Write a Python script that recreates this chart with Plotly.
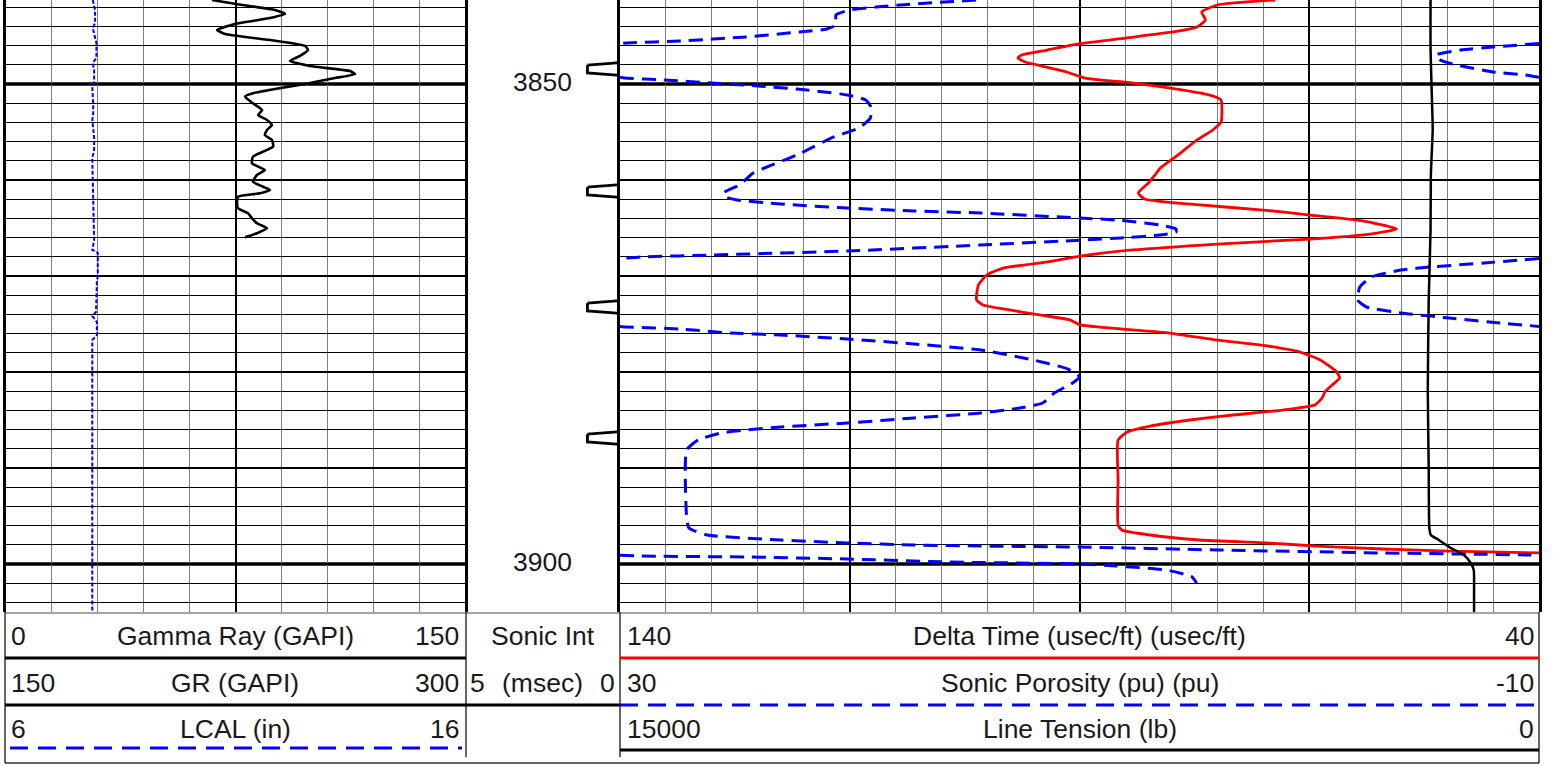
import math
import plotly.graph_objects as go

W, H = 1553, 765
T1_L, T1_R = 6, 465          # track 1 pixel edges
T2_L, T2_R = 620, 1539       # track 2 pixel edges
PLOT_BOTTOM = 612            # bottom of log grid (px)

depth_top, depth_bottom = 3841.25, 3905.0
depth_labels = [3850, 3900]
heavy_depths = [3850, 3900]

# ---------------- data ----------------
gr_depth = [3841.25, 3841.67, 3842.29, 3842.71, 3843.13, 3843.75, 3844.38, 3844.79, 3845.42, 3846.04,
            3846.46, 3847.08, 3847.6, 3848.13, 3848.65, 3848.96, 3849.38, 3850.0, 3850.52, 3850.94,
            3851.32, 3852.01, 3852.71, 3853.23, 3853.75, 3854.27, 3854.79, 3855.31, 3855.83, 3856.53,
            3857.05, 3857.57, 3858.26, 3858.96, 3859.48, 3860.18, 3860.7, 3861.04, 3861.39, 3861.74,
            3862.26, 3862.95, 3863.47, 3863.99, 3864.51, 3865.03, 3865.55, 3865.97]
gr_vals = [67.3, 75.2, 87.9, 91.2, 86.3, 74.8, 69.0, 71.6, 86.3, 97.7,
           98.7, 96.1, 92.8, 99.3, 112.4, 114.1, 107.5, 97.7, 87.9, 81.0,
           78.1, 80.7, 83.7, 82.4, 85.3, 86.9, 85.3, 84.6, 86.9, 87.3,
           84.0, 80.7, 80.4, 84.6, 82.0, 80.7, 84.0, 86.3, 83.0, 75.8,
           75.5, 75.8, 79.1, 80.4, 82.0, 85.3, 82.0, 78.1]

lcal_depth = [3841.25, 3842.29, 3843.65, 3844.17, 3845.73, 3847.29, 3847.81, 3848.54, 3849.79, 3850.42,
              3851.98, 3853.02, 3853.75, 3855.52, 3856.88, 3857.71, 3860.0, 3861.77, 3863.44, 3864.17,
              3866.25, 3867.29, 3867.6, 3870.1, 3870.42, 3872.5, 3873.75, 3874.17, 3874.79, 3876.15,
              3876.67, 3905.0]
lcal_vals = [7.89, 7.94, 7.94, 7.89, 7.97, 7.97, 7.89, 7.92, 7.92, 7.88,
             7.90, 7.90, 7.88, 7.92, 7.92, 7.88, 7.89, 7.90, 7.90, 7.92,
             7.92, 7.88, 8.00, 8.00, 7.98, 7.97, 7.96, 7.88, 7.98, 7.98,
             7.88, 7.88]

dt_depth = [3841.25, 3841.77, 3842.5, 3843.33, 3844.06, 3844.58, 3845.21, 3845.83, 3846.46, 3846.98,
            3847.29, 3847.71, 3848.13, 3848.75, 3849.38, 3849.9, 3850.63, 3851.15, 3851.67, 3852.71,
            3853.96, 3854.79, 3855.83, 3857.4, 3858.75, 3859.48, 3860.31, 3861.35, 3861.98, 3862.6,
            3863.13, 3863.65, 3864.27, 3865.1, 3865.63, 3866.15, 3866.67, 3867.29, 3867.92, 3868.54,
            3869.17, 3869.9, 3870.94, 3872.5, 3873.02, 3873.54, 3874.06, 3874.58, 3875.1, 3875.94,
            3876.67, 3877.29, 3877.92, 3878.75, 3880.0, 3880.63, 3881.35, 3882.08, 3882.71, 3883.44,
            3883.96, 3884.48, 3885.0, 3885.63, 3886.25, 3887.08, 3891.25, 3895.94, 3896.46, 3896.98,
            3897.5, 3897.81, 3898.13, 3898.44, 3898.65, 3898.85]
dt_vals = [68.7, 75.0, 76.7, 76.3, 77.2, 79.8, 85.0, 90.1, 93.5, 96.3,
           96.7, 95.9, 94.1, 91.4, 89.4, 84.2, 78.7, 75.8, 74.6, 74.5,
           74.6, 75.5, 77.2, 79.3, 81.2, 81.8, 82.5, 83.6, 82.9, 76.9,
           70.0, 64.9, 59.2, 55.5, 58.4, 64.9, 75.0, 84.2, 89.9, 93.5,
           98.3, 100.1, 101.0, 101.2, 100.5, 97.6, 94.3, 91.0, 89.9, 80.2,
           75.0, 69.6, 66.0, 63.8, 62.0, 61.7, 62.5, 63.3, 63.6, 64.4,
           67.9, 73.3, 78.0, 82.3, 84.8, 85.8, 85.8, 85.8, 85.4, 82.3,
           76.9, 69.6, 64.2, 57.0, 49.7, 40.0]

por_depth = [3841.25, 3841.77, 3842.29, 3842.81, 3843.85, 3844.27, 3844.58, 3845.1, 3845.52, 3845.73,
             3846.15, 3846.46, 3846.98, 3847.5, 3848.02, 3848.75, 3849.06,
             3849.38, 3849.58, 3849.9, 3850.21, 3850.52, 3851.15, 3851.67, 3852.29, 3853.54, 3854.58,
             3855.52, 3857.4, 3859.27, 3860.52, 3861.35, 3861.77, 3862.08, 3862.5, 3862.92, 3863.23,
             3863.44, 3863.96, 3864.17, 3864.69, 3865.1, 3865.42, 3865.73, 3866.04, 3866.25, 3866.77,
             3867.4, 3867.81, 3868.02,
             3868.33, 3868.65, 3869.06, 3869.38, 3870.1, 3871.15, 3872.5, 3873.23, 3873.85, 3874.38, 3874.9,
             3875.31, 3875.52, 3875.94, 3876.15, 3876.56, 3877.08, 3877.71, 3878.65, 3879.69, 3880.52,
             3881.15, 3882.19, 3883.23, 3883.75, 3884.27, 3884.79, 3885.31, 3885.73, 3886.35, 3887.08,
             3888.13, 3895.1, 3896.25, 3896.98, 3897.5, 3897.81, 3898.02, 3898.13, 3898.23, 3898.54,
             3898.85, 3899.06,
             3899.17, 3899.27, 3899.48, 3899.79, 3900.0, 3900.21, 3900.63, 3901.35, 3902.0]
por_vals = [14.5, 17.8, 20.0, 20.6, 20.6, 21.0, 22.2, 24.5, 27.4, 29.7,
            32.0, 33.4, 34.5, 34.3, 33.6, 32.0, 30.6,
            29.8, 28.1, 26.0, 24.0, 22.3, 20.1, 19.3, 19.1, 19.1, 19.6,
            20.7, 22.3, 24.2, 24.8, 25.5, 25.4, 24.9, 23.0, 20.1, 17.2,
            14.3, 10.0, 8.4, 6.5, 5.8, 5.8, 6.5, 8.2, 9.8, 14.3,
            20.1, 26.0, 29.1,
            30.8, 32.4, 34.7, 36.0, 37.3, 37.8, 37.9, 37.5, 36.0, 33.9, 31.7,
            29.7, 27.4, 25.2, 23.0, 20.1, 17.2, 14.3, 12.2, 10.5, 10.0,
            10.3, 11.1, 11.6, 12.6, 14.3, 17.2, 20.1, 23.0, 25.6, 26.6,
            27.1, 27.1, 27.0, 26.2, 23.0, 20.1, 17.2, 14.3, 10.0, 4.0,
            -3.2, -9.6,
            -10.9, -15.5, -19.9, -24.2, -30.0, -31.6, -33.8, -34.9, -35.1]

ten_depth = [3841.25, 3846.46, 3853.23, 3854.79, 3859.48, 3865.21, 3872.5, 3881.88, 3890.21,
             3896.25, 3896.98, 3897.5, 3898.33, 3899.06, 3899.79, 3900.63, 3902.71, 3905.0]
ten_vals = [1770, 1770, 1740, 1735, 1765, 1770, 1800, 1815, 1800,
            1790, 1765, 1635, 1440, 1225, 1125, 1065, 1060, 1060]

sonic_int_ticks = [3848.44, 3861.15, 3873.23, 3886.88]

track1_header = [("0", "Gamma Ray (GAPI)", "150"),
                 ("150", "GR (GAPI)", "300"),
                 ("6", "LCAL (in)", "16")]
depth_header = [("", "Sonic Int", ""), ("5", "(msec)", "0")]
track2_header = [("140", "Delta Time (usec/ft) (usec/ft)", "40"),
                 ("30", "Sonic Porosity (pu) (pu)", "-10"),
                 ("15000", "Line Tension (lb)", "0")]


# ---------------- helpers ----------------
def wrap(depths, vals, lo, hi):
    """Wrap-around display of values on a [lo, hi] track (backup scale)."""
    width = hi - lo
    xs, ys = [], []
    prev = None
    for d, v in zip(depths, vals):
        band = math.floor((v - lo) / width)
        if prev is not None and band != prev[2]:
            pd_, pv, pb = prev
            boundary = lo + (band if band > pb else pb) * width
            t = (boundary - pv) / (v - pv)
            dc = pd_ + t * (d - pd_)
            xs += [boundary - pb * width, None, boundary - band * width]
            ys += [dc, None, dc]
        xs.append(v - band * width)
        ys.append(d)
        prev = (d, v, band)
    return xs, ys


def px(x):
    return x / W


def py(y):
    return 1 - y / H


FONT = "Liberation Sans, Arial, sans-serif"
TXT = "#1a1a1a"
BLUE = "#0000ff"
RED = "#ff0000"
FSIZE = 26.5

fig = go.Figure()

# Track 1
fig.add_trace(go.Scatter(x=gr_vals, y=gr_depth, xaxis="x", yaxis="y", mode="lines",
                         line=dict(color="black", width=2.6, shape="spline", smoothing=0.5),
                         name="Gamma Ray"))
fig.add_trace(go.Scatter(x=lcal_vals, y=lcal_depth, xaxis="x4", yaxis="y", mode="lines",
                         line=dict(color=BLUE, width=2, dash="4px,2px"), name="LCAL"))

# Depth track: sonic integration ticks + depth labels
fx, fy = [], []
for d in sonic_int_ticks:
    fx += [0.79, 1.0, 1.0, 0.79, 0.79, None]
    fy += [d - 0.40, d - 0.66, d + 0.66, d + 0.40, d - 0.40, None]
fig.add_trace(go.Scatter(x=fx, y=fy, xaxis="x2", yaxis="y2", mode="lines",
                         line=dict(color="black", width=2.8), name="Sonic Int"))
fig.add_trace(go.Scatter(x=[0.5] * len(depth_labels), y=depth_labels, xaxis="x2", yaxis="y2",
                         mode="text", text=[str(v) for v in depth_labels],
                         textfont=dict(family=FONT, size=FSIZE, color=TXT), name="depth"))

# Track 2
fig.add_trace(go.Scatter(x=dt_vals, y=dt_depth, xaxis="x3", yaxis="y3", mode="lines",
                         line=dict(color=RED, width=2.8, shape="spline", smoothing=0.5),
                         name="Delta Time"))
px_, py_ = wrap(por_depth, por_vals, -10, 30)
fig.add_trace(go.Scatter(x=px_, y=py_, xaxis="x5", yaxis="y3", mode="lines",
                         line=dict(color=BLUE, width=3, dash="14px,8px", shape="spline", smoothing=0.5),
                         name="Sonic Porosity"))
fig.add_trace(go.Scatter(x=ten_vals, y=ten_depth, xaxis="x6", yaxis="y3", mode="lines",
                         line=dict(color="black", width=2.5, shape="spline", smoothing=0.5),
                         name="Line Tension"))

ydom = [1 - PLOT_BOTTOM / H, 1]
ybase = dict(range=[depth_bottom, depth_top], domain=ydom, tick0=3850, dtick=10,
             showgrid=True, gridcolor="black", gridwidth=2,
             minor=dict(tick0=3850, dtick=2, showgrid=True, gridcolor="black", gridwidth=1),
             showticklabels=False, ticks="", zeroline=False,
             showline=True, mirror=True, linecolor="black", linewidth=3)
xbase = dict(showticklabels=False, ticks="", zeroline=False, showline=False, showgrid=True,
             gridcolor="black", gridwidth=2)

fig.update_layout(
    width=W, height=H, autosize=False,
    margin=dict(l=0, r=0, t=0, b=0),
    paper_bgcolor="white", plot_bgcolor="white",
    showlegend=False,
    xaxis=dict(domain=[px(T1_L), px(T1_R)], range=[0, 150], anchor="y", tick0=0, dtick=75,
               minor=dict(tick0=0, dtick=15, showgrid=True, gridcolor="#808080", gridwidth=1), **xbase),
    yaxis=dict(anchor="x", **ybase),
    xaxis2=dict(domain=[px(T1_R), px(T2_L)], range=[0, 1], anchor="y2", visible=False),
    yaxis2=dict(domain=ydom, range=[depth_bottom, depth_top], anchor="x2", visible=False),
    xaxis3=dict(domain=[px(T2_L), px(T2_R)], range=[140, 40], anchor="y3", tick0=40, dtick=25,
                minor=dict(tick0=40, dtick=5, showgrid=True, gridcolor="#808080", gridwidth=1), **xbase),
    yaxis3=dict(anchor="x3", **ybase),
    xaxis4=dict(range=[6, 16], overlaying="x", anchor="y", visible=False),
    xaxis5=dict(range=[30, -10], overlaying="x3", anchor="y3", visible=False),
    xaxis6=dict(range=[15000, 0], overlaying="x3", anchor="y3", visible=False),
)

shapes = []
# heavy 50-ft depth lines
for d in heavy_depths:
    for xr, yr in (("x domain", "y"), ("x3 domain", "y3")):
        shapes.append(dict(type="line", xref=xr, yref=yr, x0=0, x1=1, y0=d, y1=d,
                           line=dict(color="black", width=3.5), layer="below"))


def hline(x0, x1, y, color="black", width=3, dash="solid"):
    shapes.append(dict(type="line", xref="paper", yref="paper", x0=px(x0), x1=px(x1),
                       y0=py(y), y1=py(y), line=dict(color=color, width=width, dash=dash)))


def vline(x, y0, y1, color="#333333", width=1.5):
    shapes.append(dict(type="line", xref="paper", yref="paper", x0=px(x), x1=px(x),
                       y0=py(y0), y1=py(y1), line=dict(color=color, width=width)))


# header frame
hline(5, T2_R, PLOT_BOTTOM + 1, color="#888888", width=1.5)
hline(5, T2_R, 763, color="#333333", width=1.5)
vline(5, PLOT_BOTTOM, 763)
vline(T1_R + 1, PLOT_BOTTOM, 757)
vline(T2_L, PLOT_BOTTOM, 757)
vline(T2_R, PLOT_BOTTOM, 763)
# curve legend lines
hline(5, T1_R + 1, 658, color="black", width=3)
hline(5, T2_L, 705, color="black", width=3)
hline(10, 462, 748, color=BLUE, width=3, dash="18px,10px")
hline(T2_L, T2_R, 658, color=RED, width=3)
hline(T2_L, T2_R, 705, color=BLUE, width=3, dash="18px,10px")
hline(T2_L, T2_R, 750, color="black", width=3)

fig.update_layout(shapes=shapes)

row_y = [636, 683, 729]
ann = []


def add_row(left, mid, right, xl, xm, xr, y):
    f = dict(family=FONT, size=FSIZE, color=TXT)
    for t, x, a in ((left, xl, "left"), (mid, xm, "center"), (right, xr, "right")):
        if t:
            ann.append(dict(text=t, x=px(x), y=py(y), xref="paper", yref="paper",
                            xanchor=a, yanchor="middle", showarrow=False, font=f))


for i, (l, m, r) in enumerate(track1_header):
    add_row(l, m, r, 9, (T1_L + T1_R) / 2, 461, row_y[i])
for i, (l, m, r) in enumerate(depth_header):
    add_row(l, m, r, 468, (T1_R + T2_L) / 2, 617, row_y[i])
for i, (l, m, r) in enumerate(track2_header):
    add_row(l, m, r, 625, (T2_L + T2_R) / 2, 1536, row_y[i])

fig.update_layout(annotations=ann)

fig.write_html("out.html",
               config={"displayModeBar": False},
               post_script="document.body.style.margin='0';document.body.style.overflow='hidden';")
